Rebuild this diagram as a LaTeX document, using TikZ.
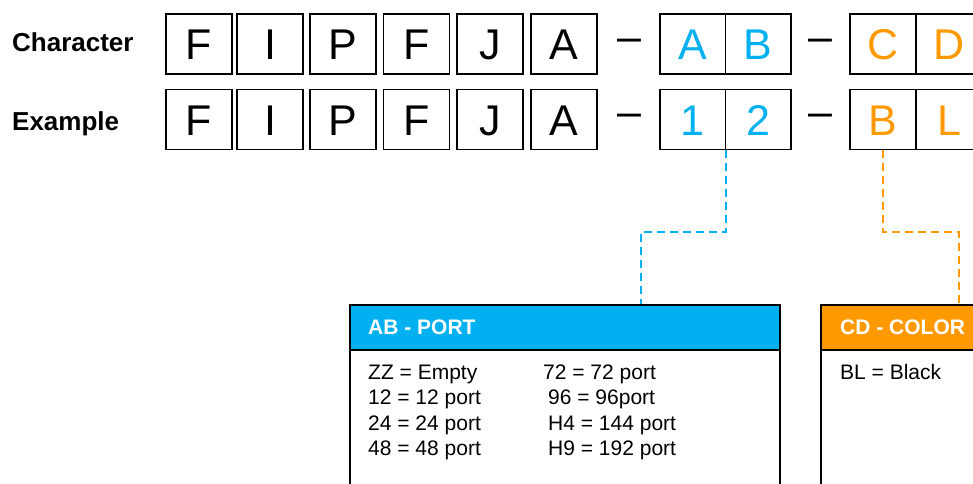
\documentclass[tikz,border=0pt]{standalone}
\usepackage{fontspec}
\setmainfont{Liberation Sans}
\definecolor{pblue}{HTML}{00B0F0}
\definecolor{porange}{HTML}{FF9900}
\begin{document}
\begin{tikzpicture}[x=1pt,y=-1pt,
  cbox/.style={draw=black,line width=1.6pt,minimum width=66pt,minimum height=60pt,inner sep=0pt,
    text height=31pt,text depth=0pt,font=\fontsize{43}{43}\selectfont},
  hbox/.style={cbox,minimum width=65.5pt},
  sep/.style={inner sep=0pt,text height=31pt,text depth=0pt,font=\fontsize{43}{43}\selectfont},
  rowlabel/.style={anchor=base west,inner sep=0pt,font=\fontsize{26}{26}\selectfont\bfseries},
  head/.style={draw=black,line width=1.5pt,minimum height=45pt,anchor=north west,inner sep=0pt},
  body/.style={draw=black,line width=1.5pt,minimum height=200pt,anchor=north west,inner sep=0pt,fill=white},
  headtext/.style={anchor=west,inner sep=0pt,text=white,font=\fontsize{21}{21}\selectfont\bfseries},
  itemtext/.style={anchor=base west,inner sep=0pt,font=\fontsize{21}{21}\selectfont},
  link/.style={dashed,dash pattern=on 8pt off 5pt,line width=1.8pt}
]
\useasboundingbox (0,0) rectangle (973,483);

% row labels
\node[rowlabel] (lchar) at (12,51.5) {Character};
\node[rowlabel] (lex) at (12,130.7) {Example};

% row 1
\node[cbox] (a1) at (199,44) {F};
\node[cbox] (a2) at (270,44) {I};
\node[cbox] (a3) at (343,44) {P};
\node[cbox] (a4) at (416.5,44) {F};
\node[cbox] (a5) at (490,44) {J};
\node[cbox] (a6) at (564,44) {A};
\node[sep] (d1) at (629,35.5) {\textendash};
\node[hbox,text=pblue] (a7) at (692.75,44) {A};
\node[hbox,text=pblue] (a8) at (758.25,44) {B};
\node[sep] (d2) at (820,35.5) {\textendash};
\node[cbox,text=porange] (a9) at (883,44) {C};
\node[cbox,text=porange] (a10) at (949,44) {D};

% row 2
\node[cbox] (e1) at (199,119.5) {F};
\node[cbox] (e2) at (270,119.5) {I};
\node[cbox] (e3) at (343,119.5) {P};
\node[cbox] (e4) at (416.5,119.5) {F};
\node[cbox] (e5) at (490,119.5) {J};
\node[cbox] (e6) at (564,119.5) {A};
\node[sep] (d3) at (629,111) {\textendash};
\node[hbox,text=pblue] (e7) at (692.75,119.5) {1};
\node[hbox,text=pblue] (e8) at (758.25,119.5) {2};
\node[sep] (d4) at (820,111) {\textendash};
\node[cbox,text=porange] (e9) at (883,119.5) {B};
\node[cbox,text=porange] (e10) at (949,119.5) {L};

% port table
\node[body,minimum width=430pt] (portbody) at (349,349) {};
\node[head,minimum width=430pt,fill=pblue] (porthead) at (349,304) {};
\node[headtext] (porttitle) at (368,327) {AB - PORT};
\node[itemtext] (p1) at (368,379) {ZZ = Empty};
\node[itemtext] (p2) at (368,404.5) {12 = 12 port};
\node[itemtext] (p3) at (368,430) {24 = 24 port};
\node[itemtext] (p4) at (368,455.3) {48 = 48 port};
\node[itemtext] (p5) at (543,379) {72 = 72 port};
\node[itemtext] (p6) at (548,404.5) {96 = 96port};
\node[itemtext] (p7) at (548,430) {H4 = 144 port};
\node[itemtext] (p8) at (548,455.3) {H9 = 192 port};

% color table
\node[body,minimum width=200pt] (colbody) at (820,349) {};
\node[head,minimum width=200pt,fill=porange] (colhead) at (820,304) {};
\node[headtext] (coltitle) at (840,327) {CD - COLOR};
\node[itemtext] (c1) at (840,379) {BL = Black};

% connectors
\coordinate (bb) at (641,232);
\coordinate (ob) at (959,232);
\draw[link,draw=pblue] (e7.south east) |- (bb) -- (porthead.north -| bb);
\draw[link,draw=porange] (e9.south) |- (ob) -- (colhead.north -| ob);
\end{tikzpicture}
\end{document}
